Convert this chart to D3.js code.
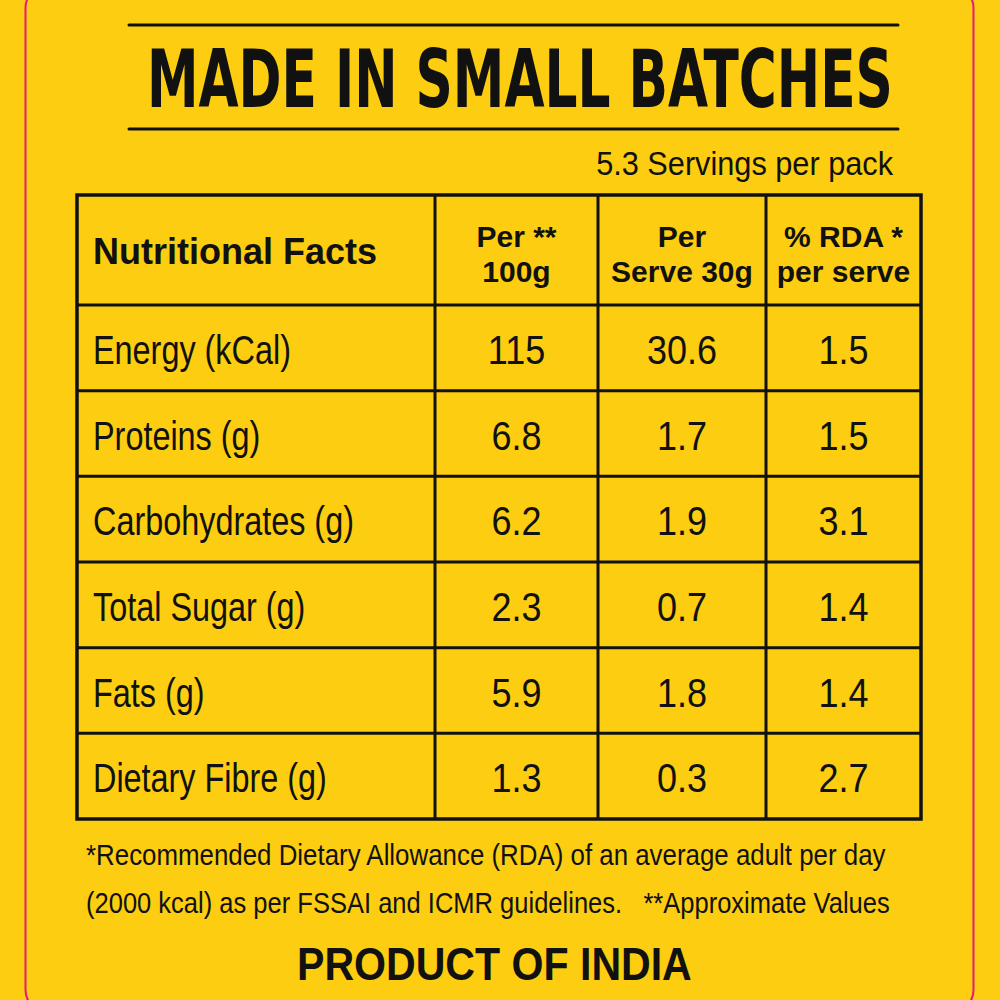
<!DOCTYPE html>
<html>
<head>
<meta charset="utf-8">
<script src="https://cdn.jsdelivr.net/npm/d3@7"></script>
<style>
  body { margin: 0; background: #fccd10; }
  svg { display: block; }
</style>
</head>
<body>
<div class="chart"></div>
<script>
// table content
var nutrients = ["Energy (kCal)", "Proteins (g)", "Carbohydrates (g)", "Total Sugar (g)", "Fats (g)", "Dietary Fibre (g)"];
var per100g = ["115", "6.8", "6.2", "2.3", "5.9", "1.3"];
var perServe = ["30.6", "1.7", "1.9", "0.7", "1.8", "0.3"];
var rdaPerServe = ["1.5", "1.5", "3.1", "1.4", "1.4", "2.7"];
var columns = ["name", "per100g", "perServe", "rda"];
var headerLines = [["Nutritional Facts"], ["Per **", "100g"], ["Per", "Serve 30g"], ["% RDA *", "per serve"]];

var titleText = "MADE IN SMALL BATCHES";
var servingsText = "5.3 Servings per pack";
var footnotes = [
  "*Recommended Dietary Allowance (RDA) of an average adult per day",
  "(2000 kcal) as per FSSAI and ICMR guidelines.   **Approximate Values"
];
var originText = "PRODUCT OF INDIA";

var svgWidth = 1000;
var svgHeight = 1000;
var sans = "'Liberation Sans', Arial, sans-serif";

var svg = d3.select(".chart")
  .append("svg")
  .attr("width", svgWidth)
  .attr("height", svgHeight);

svg.append("rect")
  .attr("width", svgWidth)
  .attr("height", svgHeight)
  .attr("fill", "#fccd10");

// text squeezed horizontally (the label uses a condensed face)
function squeezed(parent, x, y, str, o) {
  var g = parent.append("g");
  var t = g.append("text")
    .attr("text-anchor", o.anchor || "start")
    .attr("font-family", o.family || sans)
    .attr("font-weight", o.weight || "normal")
    .attr("font-size", o.size)
    .attr("fill", "#111")
    .style("white-space", "pre")
    .text(str);
  var s = o.scale;
  if (o.width) s = o.width / t.node().getComputedTextLength();
  g.attr("transform", `translate(${x},${y}) scale(${s},1)`);
  return t;
}

// pink label outline
svg.append("rect")
  .attr("x", 25.5)
  .attr("y", -14)
  .attr("width", 948)
  .attr("height", 1026)
  .attr("rx", 22)
  .attr("fill", "none")
  .attr("stroke", "#e9177f")
  .attr("stroke-width", 2);

// title with rules above and below
[25, 129].forEach(function(y) {
  svg.append("line")
    .attr("x1", 129).attr("x2", 898)
    .attr("y1", y).attr("y2", y)
    .attr("stroke", "#111")
    .attr("stroke-width", 3)
    .attr("stroke-linecap", "round");
});

squeezed(svg, 147, 107, titleText, {
  family: "'DejaVu Sans Condensed', 'DejaVu Sans', sans-serif",
  weight: "bold", size: 81, width: 746
});

squeezed(svg, 893, 175, servingsText, { anchor: "end", size: 33, width: 297 });

// table scales
var tableTop = 195;
var headerBottom = 305;
var tableBottom = 819;

var colLeft = d3.scaleOrdinal()
  .domain(columns)
  .range([77, 435, 598, 766]);
var colRight = d3.scaleOrdinal()
  .domain(columns)
  .range([435, 598, 766, 921]);

var y = d3.scaleBand()
  .domain(nutrients)
  .range([headerBottom, tableBottom]);

var table = svg.append("g").attr("class", "table");

// header cells
headerLines.forEach(function(lines, i) {
  var col = columns[i];
  var cx = i === 0 ? colLeft(col) + 16 : (colLeft(col) + colRight(col)) / 2;
  var mid = (tableTop + headerBottom) / 2;
  var size = i === 0 ? 36 : 30;
  var lh = 35;
  var t = table.append("text")
    .attr("text-anchor", i === 0 ? "start" : "middle")
    .attr("font-family", sans)
    .attr("font-weight", "bold")
    .attr("font-size", size)
    .attr("fill", "#111");
  lines.forEach(function(line, j) {
    var base = mid + 14 + (j - (lines.length - 1) / 2) * lh;
    t.append("tspan")
      .attr("x", cx)
      .attr("y", base)
      .text(line);
  });
});

// body rows
var rows = nutrients.map(function(n, i) {
  return { name: n, per100g: per100g[i], perServe: perServe[i], rda: rdaPerServe[i] };
});

columns.forEach(function(col, i) {
  var cx = i === 0 ? colLeft(col) + 16 : (colLeft(col) + colRight(col)) / 2;
  rows.forEach(function(d) {
    squeezed(table, cx, y(d.name) + y.bandwidth() / 2 + 16, d[col], {
      anchor: i === 0 ? "start" : "middle", size: 40, scale: i === 0 ? 0.81 : 0.9
    });
  });
});

// grid lines
var hLines = [headerBottom].concat(nutrients.slice(1).map(n => y(n)));
table.selectAll("line.h")
  .data(hLines)
  .enter()
  .append("line")
  .attr("class", "h")
  .attr("x1", colLeft("name")).attr("x2", colRight("rda"))
  .attr("y1", d => d).attr("y2", d => d)
  .attr("stroke", "#111")
  .attr("stroke-width", 3);

table.selectAll("line.v")
  .data(columns.slice(1))
  .enter()
  .append("line")
  .attr("class", "v")
  .attr("x1", d => colLeft(d)).attr("x2", d => colLeft(d))
  .attr("y1", tableTop).attr("y2", tableBottom)
  .attr("stroke", "#111")
  .attr("stroke-width", 3);

table.append("rect")
  .attr("x", colLeft("name"))
  .attr("y", tableTop)
  .attr("width", colRight("rda") - colLeft("name"))
  .attr("height", tableBottom - tableTop)
  .attr("fill", "none")
  .attr("stroke", "#111")
  .attr("stroke-width", 3.5);

// footnotes
footnotes.forEach(function(line, i) {
  squeezed(svg, 86, 865 + i * 48, line, { size: 30, width: i === 0 ? 800 : 804 });
});

squeezed(svg, 297, 980, originText, { weight: "bold", size: 47, width: 395 });
</script>
</body>
</html>
